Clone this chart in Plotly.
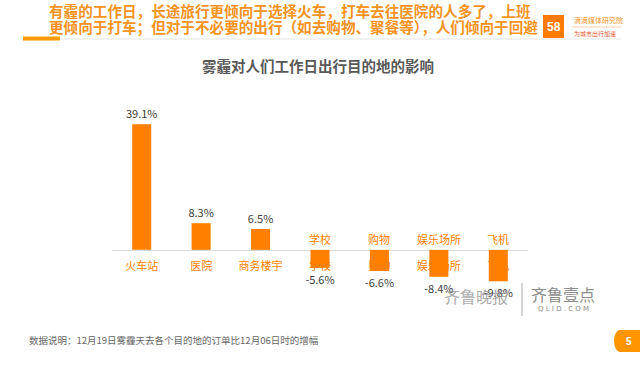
import plotly.graph_objects as go

# ---- data ----
categories = ["火车站", "医院", "商务楼宇", "学校", "购物", "娱乐场所", "飞机"]
values = [39.1, 8.3, 6.5, -5.6, -6.6, -8.4, -9.8]

title_text = "雾霾对人们工作日出行目的地的影响"
header_line1 = "有霾的工作日，长途旅行更倾向于选择火车，打车去往医院的人多了，上班"
header_line2 = "更倾向于打车；但对于不必要的出行（如去购物、聚餐等），人们倾向于回避"
footer_text = "数据说明：12月19日雾霾天去各个目的地的订单比12月06日时的增幅"
page_no = "5"

# ---- geometry helpers (pixels -> paper) ----
W, H = 640, 365
L, R, T, B = 112, 112, 115, 67
PW, PH = W - L - R, H - T - B
Y_MIN, Y_MAX = -15, 42


def px(x):
    return (x - L) / PW


def py(y):
    return (H - B - y) / PH


ORANGE = "#FF7F00"
HEAD_ORANGE = "#F7931E"
FONT = "Noto Sans CJK SC"

fig = go.Figure()
fig.add_trace(go.Bar(
    x=categories, y=values,
    marker=dict(color=ORANGE, line=dict(width=0)),
    width=0.32,
    texttemplate="%{y:.1f}%",
    textposition="outside",
    textfont=dict(size=11, color="#404040", family=FONT),
    cliponaxis=False,
    constraintext="none",
    hoverinfo="skip",
))

annotations = []
# category labels above axis for negative bars
for c, v in zip(categories, values):
    if v < 0:
        annotations.append(dict(x=c, y=0, xref="x", yref="y", text=c, showarrow=False,
                                yanchor="bottom", yshift=1,
                                font=dict(size=11, color=ORANGE, family=FONT)))

# header
annotations.append(dict(xref="paper", yref="paper", x=px(47), y=py(10.5), xanchor="left", yanchor="middle",
                        text="<b>%s</b>" % header_line1, showarrow=False,
                        font=dict(size=14.6, color=HEAD_ORANGE, family=FONT)))
annotations.append(dict(xref="paper", yref="paper", x=px(47), y=py(26.5), xanchor="left", yanchor="middle",
                        text="<b>%s</b>" % header_line2, showarrow=False,
                        font=dict(size=14.6, color=HEAD_ORANGE, family=FONT)))
# title
annotations.append(dict(xref="paper", yref="paper", x=px(318), y=py(66), xanchor="center", yanchor="middle",
                        text="<b>%s</b>" % title_text, showarrow=False,
                        font=dict(size=14.5, color="#595959", family=FONT)))
# footer
annotations.append(dict(xref="paper", yref="paper", x=px(27), y=py(340), xanchor="left", yanchor="middle",
                        text=footer_text, showarrow=False,
                        font=dict(size=9.5, color="#666666", family=FONT)))
# page number
annotations.append(dict(xref="paper", yref="paper", x=px(629), y=py(341), xanchor="center", yanchor="middle",
                        text="<b>%s</b>" % page_no, showarrow=False,
                        font=dict(size=10, color="white", family="Liberation Sans")))
# logo texts
annotations.append(dict(xref="paper", yref="paper", x=px(553.5), y=py(27), xanchor="center", yanchor="middle",
                        text="<b>58</b>", showarrow=False,
                        font=dict(size=12, color="white", family="Liberation Sans")))
annotations.append(dict(xref="paper", yref="paper", x=px(572), y=py(20), xanchor="left", yanchor="middle",
                        text="滴滴媒体研究院", showarrow=False,
                        font=dict(size=7, color=HEAD_ORANGE, family=FONT)))
annotations.append(dict(xref="paper", yref="paper", x=px(572), y=py(34), xanchor="left", yanchor="middle",
                        text="为城市出行加速", showarrow=False,
                        font=dict(size=6, color="#E8542A", family=FONT)))
# watermark
annotations.append(dict(xref="paper", yref="paper", x=px(476), y=py(296), xanchor="center", yanchor="middle",
                        text="齐鲁晚报", showarrow=False,
                        font=dict(size=16, color="rgba(150,150,150,0.8)", family="Noto Sans CJK SC")))
annotations.append(dict(xref="paper", yref="paper", x=px(563), y=py(294), xanchor="center", yanchor="middle",
                        text="齐鲁壹点", showarrow=False,
                        font=dict(size=16, color="#8c8c8c", family=FONT)))
annotations.append(dict(xref="paper", yref="paper", x=px(563), y=py(309), xanchor="center", yanchor="middle",
                        text="Q L I D . C O M", showarrow=False,
                        font=dict(size=7, color="#8c8c8c", family="DejaVu Sans")))

shapes = [
    # header accent bar + rule
    dict(type="line", xref="paper", yref="paper", x0=px(61), x1=px(621), y0=py(39), y1=py(39),
         line=dict(color="#EEEEEE", width=1.5)),
    dict(type="path", xref="paper", yref="paper",
         path="M %f %f L %f %f" % (px(23), py(38.5), px(60), py(38.5)),
         line=dict(color="#FF9900", width=4)),
    # logo box
    dict(type="rect", xref="paper", yref="paper", x0=px(543), x1=px(564), y0=py(38), y1=py(15),
         fillcolor="#FF7A00", line=dict(width=0)),
    dict(type="line", xref="paper", yref="paper", x0=px(572), x1=px(621), y0=py(27), y1=py(27),
         line=dict(color="#F7B27A", width=0.6)),
    # page number tab
    dict(type="rect", xref="paper", yref="paper", x0=px(619), x1=px(641), y0=py(352), y1=py(330),
         fillcolor="#FF9500", line=dict(width=0)),
    dict(type="circle", xref="paper", yref="paper", x0=px(614), x1=px(626), y0=py(352), y1=py(330),
         fillcolor="#FF9500", line=dict(width=0)),
    # watermark divider
    dict(type="line", xref="paper", yref="paper", x0=px(522), x1=px(522), y0=py(283), y1=py(316),
         line=dict(color="#AAAAAA", width=1)),
]

fig.update_layout(
    width=W, height=H, autosize=False,
    margin=dict(l=L, r=R, t=T, b=B),
    paper_bgcolor="white", plot_bgcolor="white",
    showlegend=False,
    font=dict(family=FONT),
    xaxis=dict(type="category", range=[-0.5, 6.5], anchor="free",
               position=(0 - Y_MIN) / (Y_MAX - Y_MIN),
               showline=True, linecolor="#D9D9D9", linewidth=1,
               ticks="outside", ticklen=6, tickcolor="rgba(0,0,0,0)",
               tickfont=dict(size=11, color=ORANGE, family=FONT),
               showgrid=False, zeroline=False, layer="below traces", fixedrange=True),
    yaxis=dict(range=[Y_MIN, Y_MAX], visible=False, fixedrange=True),
    annotations=annotations,
    shapes=shapes,
)

fig.write_html("out.html", config={"displayModeBar": False},
               post_script="document.body.style.margin='0';document.body.style.overflow='hidden';")
